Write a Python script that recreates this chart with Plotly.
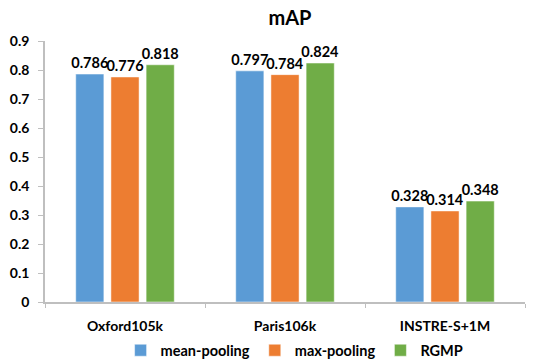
import plotly.graph_objects as go

categories = ["Oxford105k", "Paris106k", "INSTRE-S+1M"]
mean_pooling = [0.786, 0.797, 0.328]
max_pooling = [0.776, 0.784, 0.314]
rgmp = [0.818, 0.824, 0.348]
y_ticks = [0, 0.1, 0.2, 0.3, 0.4, 0.5, 0.6, 0.7, 0.8, 0.9]
y_tick_labels = ["0", "0.1", "0.2", "0.3", "0.4", "0.5", "0.6", "0.7", "0.8", "0.9"]

FONT = "Lato"
series = [
    ("mean-pooling", mean_pooling, "#5B9BD5"),
    ("max-pooling", max_pooling, "#ED7D31"),
    ("RGMP", rgmp, "#70AD47"),
]

fig = go.Figure()
for name, vals, color in series:
    fig.add_trace(go.Bar(
        name=name, x=categories, y=vals,
        marker=dict(color=color, line=dict(color="white", width=0.5)),
        text=[f"{v:.3f}" for v in vals], textposition="outside",
        constraintext="none",
        textfont=dict(family=FONT, size=14.5, color="#000000", weight="bold"),
        cliponaxis=False,
    ))

fig.update_layout(
    width=541, height=360,
    margin=dict(l=45, r=16, t=41, b=58, autoexpand=False),
    paper_bgcolor="white", plot_bgcolor="white",
    barmode="group", bargap=0.34, bargroupgap=0.2,
    title=dict(text="<b>mAP</b>", x=0.536, xanchor="center", y=0.95, yanchor="middle",
               font=dict(family=FONT, size=20, color="#000000")),
    font=dict(family=FONT, color="#000000"),
    showlegend=True,
    legend=dict(orientation="h", x=0.52, xanchor="center", y=-0.185, yanchor="middle",
                font=dict(family=FONT, size=14.5, color="#000000", weight="bold"),
                itemwidth=30, tracegroupgap=0),
    xaxis=dict(showline=True, linecolor="#BFBFBF", linewidth=1.5,
               ticks="outside", tickson="boundaries", ticklen=4, tickcolor="#BFBFBF",
               ticklabelstandoff=10,
               tickfont=dict(family=FONT, size=14, color="#000000", weight="bold"),
               showgrid=False),
    yaxis=dict(range=[0, 0.9], tickvals=y_ticks, ticktext=y_tick_labels,
               showline=True, linecolor="#BFBFBF", linewidth=1.5,
               ticks="outside", ticklen=5, tickcolor="#BFBFBF",
               ticklabelstandoff=6,
               tickfont=dict(family=FONT, size=14, color="#000000", weight="bold"),
               showgrid=False, zeroline=False),
)

fig.write_html("out.html", config={"displayModeBar": False},
               post_script="document.body.style.margin='0';document.body.style.overflow='hidden';")
